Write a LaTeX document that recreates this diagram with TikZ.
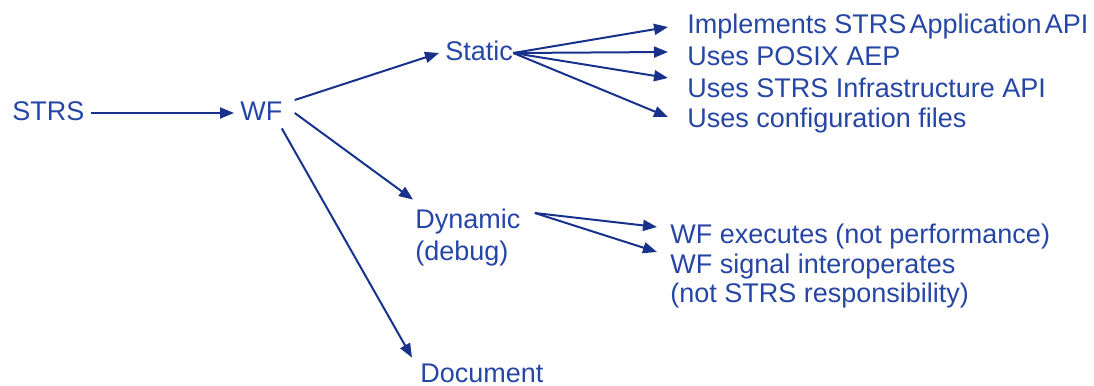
\documentclass[tikz,border=0pt]{standalone}
\usepackage{fontspec}
\setmainfont{Liberation Sans}
\usepackage{xcolor}
\usepackage{tikz}
\usetikzlibrary{arrows.meta}
\definecolor{txtblue}{RGB}{38,70,165}
\definecolor{arrblue}{RGB}{24,50,140}
\tikzset{
	lbl/.style={anchor=base west, inner xsep=3pt, inner ysep=0pt, text height=10pt, text depth=3pt, text=txtblue, font=\fontsize{13.5}{16}\selectfont},
	arr/.style={-{Triangle[length=7pt,width=5.5pt]}, line width=1pt, arrblue},
}

\begin{document}
\begin{tikzpicture}[x=0.5pt, y=-0.5pt]
		\useasboundingbox (0,0) rectangle (1094,386);

		\node[lbl] (strs) at (6,120) {STRS};
		\node[lbl] (wf) at (234,120) {WF};
		\node[lbl] (static) at (439,60) {Static};
		\node[lbl] (dyn) at (409,228) {Dynamic};
		\node[lbl] (dynb) at (409,260) {(debug)};
		\node[lbl] (doc) at (414,382) {Document};

		\node[lbl] (impl) at (681,33) {Implements STRS\spaceskip=0.12em\ Application API};
		\node[lbl] (posix) at (681,65) {Uses POSIX AEP};
		\node[lbl] (infra) at (681,97) {Uses STRS Infrastructure API};
		\node[lbl] (conf) at (681,127) {Uses configuration files};

		\node[lbl] (exec) at (664,243) {WF executes (not performance)};
		\node[lbl] (sig) at (664,273) {WF signal interoperates};
		\node[lbl] (sigb) at (664,302) {(not STRS responsibility)};

		\draw[arr] (strs.east) -- (wf.west);
		\draw[arr] ([shift={(3pt,6.5pt)}]wf.east) -- (static.west);
		\draw[arr] ([shift={(3pt,0pt)}]wf.east) -- ([shift={(2pt,4pt)}]dyn.north west);
		\draw[arr] ([shift={(-3.5pt,-1pt)}]wf.south east) -- ([shift={(-1pt,2pt)}]doc.north west);

		\draw[arr] ([xshift=-3pt]static.east) -- ([shift={(-6.5pt,-0.5pt)}]impl.west);
		\draw[arr] ([xshift=-3pt]static.east) -- ([shift={(-6.5pt,3pt)}]posix.west);
		\draw[arr] ([xshift=-3pt]static.east) -- ([shift={(-6.5pt,6pt)}]infra.west);
		\draw[arr] ([xshift=-3pt]static.east) -- ([shift={(-6.5pt,1.5pt)}]conf.west);

		\draw[arr] ([shift={(4pt,4pt)}]dyn.east) -- ([shift={(-3.5pt,4.5pt)}]exec.west);
		\draw[arr] ([shift={(4pt,4pt)}]dyn.east) -- ([shift={(-3.5pt,7pt)}]sig.west);
	\end{tikzpicture}
\end{document}
